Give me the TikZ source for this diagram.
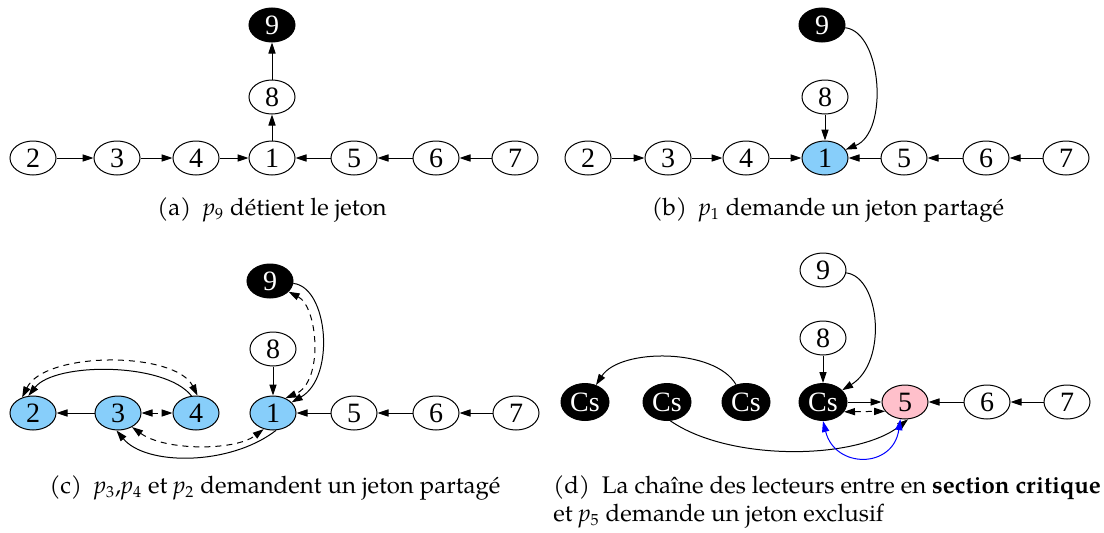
\documentclass[tikz,border=0pt]{standalone}
\usepackage{fontspec}
\setmainfont{TeX Gyre Pagella}
\newfontfamily\timesfont{Liberation Serif}
\usetikzlibrary{shapes.geometric,arrows.meta}
\definecolor{reqblue}{HTML}{87CEFA}
\definecolor{reqpink}{HTML}{FFC0CB}
\tikzstyle{proc}=[ellipse, draw, line width=0.5pt, inner sep=0pt, minimum width=23pt, minimum height=17pt, fill=white, font=\timesfont\fontsize{14}{14}\selectfont]
\tikzstyle{holder}=[proc, fill=black, text=white]
\tikzstyle{asker}=[proc, fill=reqblue]
\tikzstyle{writer}=[proc, fill=reqpink]
\tikzstyle{tok}=[line width=0.5pt, -{Triangle[length=5.5pt,width=3.6pt]}]
\tikzstyle{twoway}=[line width=0.5pt, dash pattern=on 3pt off 2.5pt, {Triangle[length=5.5pt,width=3.6pt]}-{Triangle[length=5.5pt,width=3.6pt]}]
\tikzstyle{blueway}=[line width=0.5pt, blue, {Triangle[length=5.5pt,width=3.6pt]}-{Triangle[length=5.5pt,width=3.6pt]}]
\tikzstyle{capt}=[inner sep=0pt, font=\fontsize{12}{14.4}\selectfont]
\newcommand{\proc}{\node[proc]}
\newcommand{\pid}[1]{\textit{p}\textsubscript{#1}}

\begin{document}
\begin{tikzpicture}[x=0.5pt,y=0.5pt]
\useasboundingbox (0,0) rectangle (1104,532);
\foreach \i/\x in {2/33,3/117,4/196,1/272,5/354,6/436,7/515}{
	\proc (a\i) at (\x,374) {\i};
	}
\proc (a8) at (272,435) {8};
\node[holder] (a9) at (272,507) {9};
\draw[tok] (a2) -- (a3);
\draw[tok] (a3) -- (a4);
\draw[tok] (a4) -- (a1);
\draw[tok] (a5) -- (a1);
\draw[tok] (a6) -- (a5);
\draw[tok] (a7) -- (a6);
\draw[tok] (a1) -- (a8);
\draw[tok] (a8) -- (a9);
\node[capt] (capa) at (272,322) {(a)\enspace \pid{9} détient le jeton};

\foreach \i/\x in {2/588,3/668,4/746,5/904,6/986,7/1066}{
	\proc (b\i) at (\x,374) {\i};
	}
\node[asker] (b1) at (825,374) {1};
\proc (b8) at (825,435) {8};
\node[holder] (b9) at (822,507) {9};
\draw[tok] (b2) -- (b3);
\draw[tok] (b3) -- (b4);
\draw[tok] (b4) -- (b1);
\draw[tok] (b5) -- (b1);
\draw[tok] (b6) -- (b5);
\draw[tok] (b7) -- (b6);
\draw[tok] (b8) -- (b1);
\draw[tok] (b9) .. controls (882,500) and (889,400) .. (b1);
\node[capt] (capb) at (828,322) {(b)\enspace \pid{1} demande un jeton partagé};

\foreach \i/\x in {2/33,3/118,4/196,1/273}{
	\node[asker] (c\i) at (\x,119) {\i};
	}
\foreach \i/\x in {5/354,6/436,7/516}{
	\proc (c\i) at (\x,119) {\i};
	}
\proc (c8) at (273,183) {8};
\node[holder] (c9) at (270,251) {9};
\draw[tok] (c3) -- (c2);
\draw[twoway] (c3) -- (c4);
\draw[tok] (c8) -- (c1);
\draw[tok] (c5) -- (c1);
\draw[tok] (c6) -- (c5);
\draw[tok] (c7) -- (c6);
\draw[tok] (c9) .. controls (328,245) and (336,155) .. (c1);
\draw[twoway] (c9.-30) .. controls (318,225) and (324,150) .. (c1.50);
\draw[tok] (c4.105) .. controls (165,170) and (55,170) .. (c2.105);
\draw[twoway] (c2.125) .. controls (45,181) and (175,181) .. (c4.85);
\draw[tok] (c1.-80) .. controls (230,66) and (146,66) .. (c3.-95);
\draw[twoway] (c3.-45) .. controls (165,81) and (235,81) .. (c1.-120);
\node[capt] (capc) at (275,44) {(c)\enspace \pid{3},\pid{4} et \pid{2} demandent un jeton partagé};

\foreach \i/\x in {1/585,2/667,3/746,4/823}{
	\node[holder, minimum width=24pt, minimum height=18.5pt] (d\i) at (\x,130) {Cs};
	}
\node[writer] (d5) at (905,130) {5};
\proc (d6) at (987,130) {6};
\proc (d7) at (1067,130) {7};
\proc (d8) at (823,194) {8};
\proc (d9) at (823,262) {9};
\draw[tok] (d8) -- (d4);
\draw[tok] (d9) .. controls (880,255) and (888,170) .. (d4);
\draw[tok] (d4) -- (d5);
\draw[twoway] (d4.-25) -- (d5.-155);
\draw[tok] (d6) -- (d5);
\draw[tok] (d7) -- (d6);
\draw[tok] (d3) .. controls (715,184) and (620,184) .. (d1);
\draw[tok] (d2.-80) .. controls (730,70) and (857,72) .. (d5.-80);
\draw[blueway] (d4.-90) .. controls (835,63) and (893,63) .. (d5.-105);
\node[capt, anchor=west, align=left] (capd) at (553,30) {(d)\enspace La chaîne des lecteurs entre en \textbf{section critique}\\et \pid{5} demande un jeton exclusif};
\end{tikzpicture}
\end{document}
